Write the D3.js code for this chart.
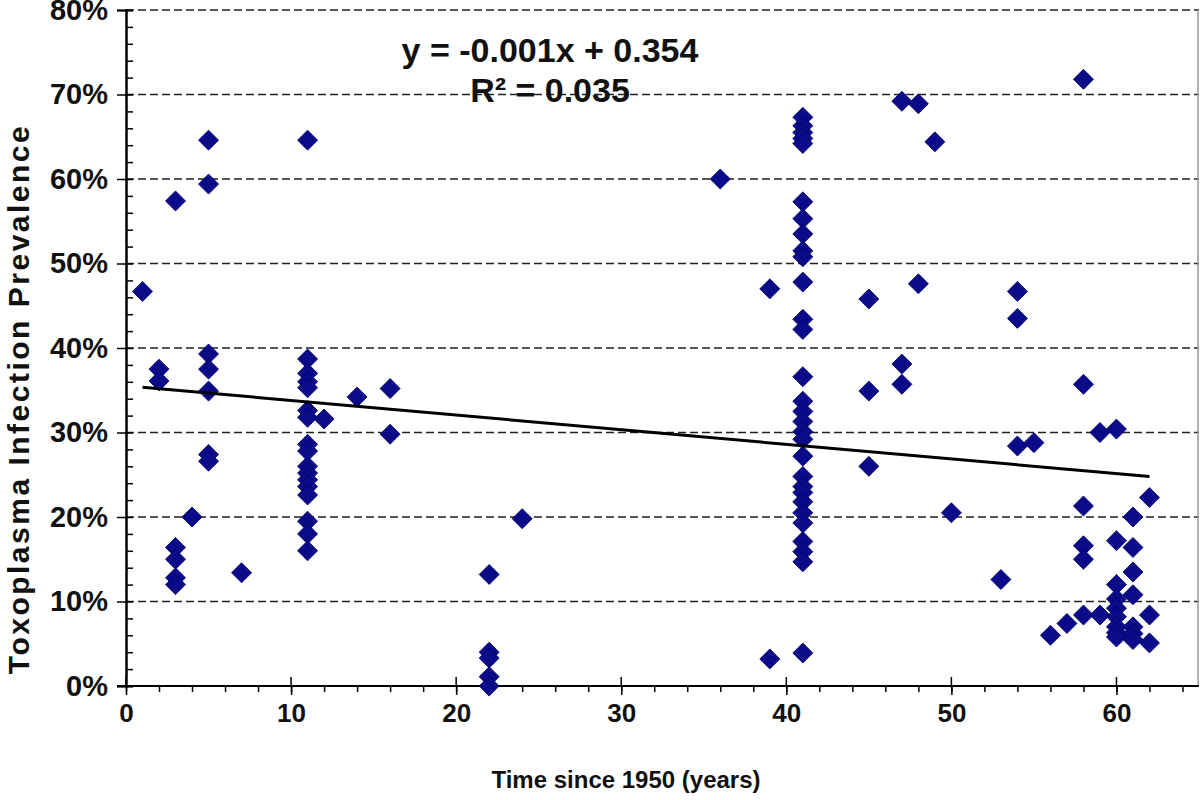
<!DOCTYPE html>
<html>
<head>
<meta charset="utf-8">
<script src="https://cdn.jsdelivr.net/npm/d3@7"></script>
<style>
  body { margin: 0; background: #fff; }
  text { font-family: "Liberation Sans", Arial, sans-serif; }
</style>
</head>
<body>
<div id="chart"></div>
<script>
// years since 1950 (one column of points per year)
var years = [1, 2, 3, 4, 5, 7, 11, 12, 14, 16, 22, 24, 36, 39, 41, 45, 47, 48, 49, 50, 53, 54, 55, 56, 57, 58, 59, 60, 61, 62]

// prevalence in %, same order as years
var prevalence = [
  [46.7],
  [37.5, 36.1],
  [57.4, 16.4, 15.0, 12.8, 12.0],
  [20.0],
  [64.6, 59.4, 39.3, 37.5, 34.9, 27.4, 26.6],
  [13.4],
  [64.6, 38.7, 37.0, 36.0, 35.3, 32.6, 31.8, 28.6, 27.8, 26.0, 25.2, 24.4, 23.6, 22.6, 19.5, 18.0, 16.0],
  [31.6],
  [34.2],
  [35.2, 29.8],
  [13.2, 4.0, 3.3, 1.1, 0.0],
  [19.8],
  [60.0],
  [47.0, 3.2],
  [67.3, 66.3, 65.5, 64.8, 64.2, 57.3, 55.3, 53.5, 51.5, 50.8, 47.8, 43.4, 42.2, 36.6, 33.7, 32.5, 31.3, 30.1, 29.2, 27.2, 24.8, 23.6, 22.9, 21.8, 20.5, 19.3, 17.1, 15.9, 14.7, 3.9],
  [45.8, 34.9, 26.0],
  [69.2, 38.1, 35.7],
  [68.9, 47.6],
  [64.4],
  [20.5],
  [12.6],
  [46.7, 43.5, 28.4],
  [28.8],
  [6.0],
  [7.4],
  [71.8, 35.7, 21.3, 16.6, 15.0, 8.4],
  [30.0, 8.4],
  [30.4, 17.2, 12.0, 10.3, 9.2, 8.2, 7.0, 6.3, 5.8],
  [20.0, 16.4, 13.5, 10.8, 7.0, 6.2, 5.5],
  [22.3, 8.4, 5.1]
]

// linear trend as drawn (label is rounded)
var trendSlope = -0.00173
var trendIntercept = 0.3552
var trendYears = [1, 62]

var xTicks = [0, 10, 20, 30, 40, 50, 60]
var yTicks = [0, 0.1, 0.2, 0.3, 0.4, 0.5, 0.6, 0.7, 0.8]
var eqLabel = "y = -0.001x + 0.354"
var r2Label = "R² = 0.035"
var xTitle = "Time since 1950 (years)"
var yTitle = "Toxoplasma Infection Prevalence"

var W = 1200, H = 800
// plot box (don't call these top/left, window.top is taken)
var pLeft = 126, pTop = 10, pRight = 1199, pBottom = 686

var svg = d3.select("#chart").append("svg")
  .attr("width", W)
  .attr("height", H)

var x = d3.scaleLinear().domain([0, 65]).range([pLeft, pRight])
var y = d3.scaleLinear().domain([0, 0.8]).range([pBottom, pTop])

// flatten columns into points
var points = []
years.forEach(function(yr, i) {
  prevalence[i].forEach(function(v) { points.push({x: yr, y: v / 100}) })
})

// dashed gridlines
svg.append("g")
  .selectAll("line")
  .data(yTicks.filter(function(d) { return d > 0 }))
  .enter().append("line")
  .attr("x1", pLeft).attr("x2", pRight)
  .attr("y1", function(d) { return y(d) })
  .attr("y2", function(d) { return y(d) })
  .style("stroke", "#222")
  .style("stroke-width", 1.3)
  .style("stroke-dasharray", "8,4")

// right border
svg.append("line")
  .attr("x1", pRight - 1).attr("x2", pRight - 1)
  .attr("y1", pTop).attr("y2", pBottom)
  .style("stroke", "#999")
  .style("stroke-width", 1.5)

// y axis: major ticks outward, minor ticks inward
var yAxis = svg.append("g").attr("transform", "translate(" + pLeft + ",0)")
yAxis.append("g")
  .call(d3.axisRight(y).tickValues(d3.range(0, 0.81, 0.02)).tickSize(7).tickFormat(""))
yAxis.append("g")
  .call(d3.axisLeft(y).tickValues(yTicks).tickSize(9).tickFormat(d3.format(".0%")))
yAxis.selectAll(".domain").style("stroke", "#000").style("stroke-width", 2)
yAxis.selectAll("line").style("stroke", "#000").style("stroke-width", 1.5)
yAxis.selectAll("text")
  .attr("x", -18)
  .style("font-size", "29px")
  .style("font-weight", "bold")
  .style("fill", "#111")

// x axis: minor ticks every 2 downward, majors crossing
var xAxis = svg.append("g").attr("transform", "translate(0," + pBottom + ")")
xAxis.append("g")
  .call(d3.axisBottom(x).tickValues(d3.range(0, 65, 2)).tickSize(6).tickFormat(""))
xAxis.append("g")
  .call(d3.axisBottom(x).tickValues(xTicks).tickSize(9).tickFormat(d3.format("d")))
xAxis.selectAll(".domain").remove()
xAxis.selectAll("line").style("stroke", "#000").style("stroke-width", 1.5)
// majors also poke up a bit
xAxis.append("g").selectAll("line")
  .data(xTicks).enter().append("line")
  .attr("x1", function(d) { return x(d) }).attr("x2", function(d) { return x(d) })
  .attr("y1", -9).attr("y2", 0)
  .style("stroke", "#000").style("stroke-width", 1.5)
xAxis.selectAll("text")
  .attr("y", 18)
  .style("font-size", "26px")
  .style("font-weight", "bold")
  .style("fill", "#111")
// x axis line reaches a bit left of the y axis
svg.append("line")
  .attr("x1", pLeft - 9).attr("x2", pRight)
  .attr("y1", pBottom).attr("y2", pBottom)
  .style("stroke", "#000").style("stroke-width", 2)

// diamonds
var diamond = d3.symbol().type(d3.symbolSquare).size(200)
svg.append("g")
  .selectAll("path")
  .data(points)
  .enter().append("path")
  .attr("d", diamond)
  .attr("transform", function(d) { return "translate(" + x(d.x) + "," + y(d.y) + ") rotate(45)" })
  .style("fill", "#0b0b8a")
  .style("stroke", "#000066")
  .style("stroke-width", 0.8)

// trend line
svg.append("line")
  .attr("x1", x(trendYears[0]))
  .attr("y1", y(trendIntercept + trendSlope * trendYears[0]))
  .attr("x2", x(trendYears[1]))
  .attr("y2", y(trendIntercept + trendSlope * trendYears[1]))
  .style("stroke", "#000")
  .style("stroke-width", 3)

// equation labels
svg.append("text")
  .attr("x", 550).attr("y", 62)
  .attr("text-anchor", "middle")
  .style("font-size", "34px")
  .style("font-weight", "bold")
  .style("fill", "#111")
  .text(eqLabel)
svg.append("text")
  .attr("x", 550).attr("y", 102)
  .attr("text-anchor", "middle")
  .style("font-size", "34px")
  .style("font-weight", "bold")
  .style("fill", "#111")
  .text(r2Label)

// axis titles
svg.append("text")
  .attr("x", 626).attr("y", 788)
  .attr("text-anchor", "middle")
  .style("font-size", "24px")
  .style("font-weight", "bold")
  .style("fill", "#111")
  .text(xTitle)

svg.append("text")
  .attr("transform", "translate(29,399) rotate(-90)")
  .attr("text-anchor", "middle")
  .style("font-size", "30px")
  .style("font-weight", "bold")
  .style("letter-spacing", "2.5px")
  .style("fill", "#111")
  .text(yTitle)
</script>
</body>
</html>
